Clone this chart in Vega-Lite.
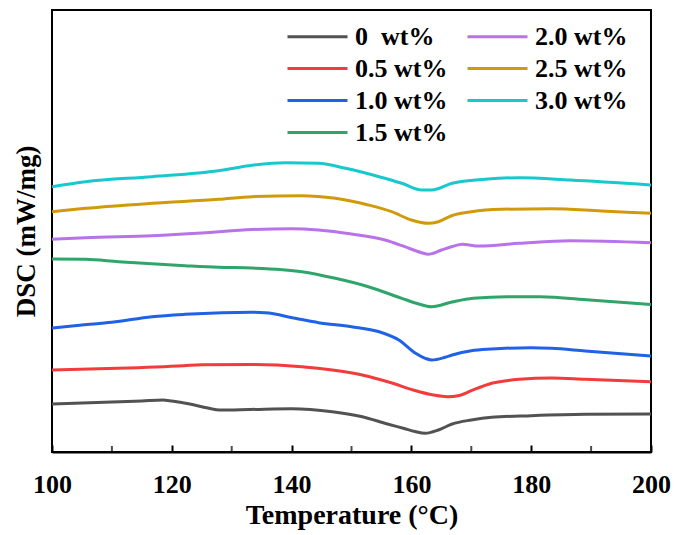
{
  "$schema": "https://vega.github.io/schema/vega-lite/v6.json",
  "width": 599,
  "height": 442,
  "autosize": "none",
  "padding": {"left": 52, "top": 10, "right": 31, "bottom": 83},
  "background": "white",
  "config": {
    "font": "Liberation Serif",
    "view": {"stroke": "black", "strokeWidth": 2},
    "axis": {"grid": false}
  },
  "datasets": {
    "dsc": [
      {"T": 100, "v": 48, "s": "0\u00a0\u00a0wt%"},
      {"T": 105, "v": 49, "s": "0\u00a0\u00a0wt%"},
      {"T": 110, "v": 50, "s": "0\u00a0\u00a0wt%"},
      {"T": 115, "v": 51, "s": "0\u00a0\u00a0wt%"},
      {"T": 118.5, "v": 52, "s": "0\u00a0\u00a0wt%"},
      {"T": 120, "v": 51, "s": "0\u00a0\u00a0wt%"},
      {"T": 123, "v": 48, "s": "0\u00a0\u00a0wt%"},
      {"T": 126, "v": 44, "s": "0\u00a0\u00a0wt%"},
      {"T": 128, "v": 42, "s": "0\u00a0\u00a0wt%"},
      {"T": 133, "v": 42.5, "s": "0\u00a0\u00a0wt%"},
      {"T": 140, "v": 43.3, "s": "0\u00a0\u00a0wt%"},
      {"T": 146.8, "v": 40.3, "s": "0\u00a0\u00a0wt%"},
      {"T": 151.8, "v": 35.3, "s": "0\u00a0\u00a0wt%"},
      {"T": 156, "v": 28, "s": "0\u00a0\u00a0wt%"},
      {"T": 158.8, "v": 23.5, "s": "0\u00a0\u00a0wt%"},
      {"T": 160.6, "v": 20.5, "s": "0\u00a0\u00a0wt%"},
      {"T": 162.3, "v": 18.7, "s": "0\u00a0\u00a0wt%"},
      {"T": 164.5, "v": 22, "s": "0\u00a0\u00a0wt%"},
      {"T": 166.8, "v": 28, "s": "0\u00a0\u00a0wt%"},
      {"T": 170, "v": 32, "s": "0\u00a0\u00a0wt%"},
      {"T": 173.4, "v": 34.7, "s": "0\u00a0\u00a0wt%"},
      {"T": 180, "v": 36.3, "s": "0\u00a0\u00a0wt%"},
      {"T": 189, "v": 37.7, "s": "0\u00a0\u00a0wt%"},
      {"T": 200, "v": 38, "s": "0\u00a0\u00a0wt%"},

      {"T": 100, "v": 82, "s": "0.5 wt%"},
      {"T": 111, "v": 83.7, "s": "0.5 wt%"},
      {"T": 122, "v": 86.3, "s": "0.5 wt%"},
      {"T": 125, "v": 87.3, "s": "0.5 wt%"},
      {"T": 133.4, "v": 87.5, "s": "0.5 wt%"},
      {"T": 141.7, "v": 85.3, "s": "0.5 wt%"},
      {"T": 146.8, "v": 82, "s": "0.5 wt%"},
      {"T": 151.8, "v": 77, "s": "0.5 wt%"},
      {"T": 156.9, "v": 68.7, "s": "0.5 wt%"},
      {"T": 160.3, "v": 62, "s": "0.5 wt%"},
      {"T": 163.7, "v": 57, "s": "0.5 wt%"},
      {"T": 166, "v": 55.3, "s": "0.5 wt%"},
      {"T": 168, "v": 56.5, "s": "0.5 wt%"},
      {"T": 170, "v": 61.3, "s": "0.5 wt%"},
      {"T": 173.4, "v": 68.7, "s": "0.5 wt%"},
      {"T": 178, "v": 72.7, "s": "0.5 wt%"},
      {"T": 183.4, "v": 74, "s": "0.5 wt%"},
      {"T": 189, "v": 72.7, "s": "0.5 wt%"},
      {"T": 200, "v": 70.3, "s": "0.5 wt%"},

      {"T": 100, "v": 124, "s": "1.0 wt%"},
      {"T": 105, "v": 127, "s": "1.0 wt%"},
      {"T": 110, "v": 129.7, "s": "1.0 wt%"},
      {"T": 116.7, "v": 135.3, "s": "1.0 wt%"},
      {"T": 122.2, "v": 137.7, "s": "1.0 wt%"},
      {"T": 128.4, "v": 139.3, "s": "1.0 wt%"},
      {"T": 133.4, "v": 139.7, "s": "1.0 wt%"},
      {"T": 135.6, "v": 139.3, "s": "1.0 wt%"},
      {"T": 140.6, "v": 133.7, "s": "1.0 wt%"},
      {"T": 144.5, "v": 129.3, "s": "1.0 wt%"},
      {"T": 150, "v": 125.3, "s": "1.0 wt%"},
      {"T": 154.6, "v": 120.3, "s": "1.0 wt%"},
      {"T": 157.9, "v": 112, "s": "1.0 wt%"},
      {"T": 160.7, "v": 98.7, "s": "1.0 wt%"},
      {"T": 162.3, "v": 93.7, "s": "1.0 wt%"},
      {"T": 163.4, "v": 92, "s": "1.0 wt%"},
      {"T": 165.6, "v": 94.7, "s": "1.0 wt%"},
      {"T": 166.8, "v": 97, "s": "1.0 wt%"},
      {"T": 170, "v": 101.3, "s": "1.0 wt%"},
      {"T": 173.4, "v": 103, "s": "1.0 wt%"},
      {"T": 180, "v": 104.3, "s": "1.0 wt%"},
      {"T": 183.4, "v": 103.7, "s": "1.0 wt%"},
      {"T": 189, "v": 101, "s": "1.0 wt%"},
      {"T": 200, "v": 96, "s": "1.0 wt%"},

      {"T": 100, "v": 193, "s": "1.5 wt%"},
      {"T": 105.6, "v": 192.7, "s": "1.5 wt%"},
      {"T": 111.1, "v": 190.3, "s": "1.5 wt%"},
      {"T": 122.2, "v": 186.3, "s": "1.5 wt%"},
      {"T": 127.8, "v": 184.7, "s": "1.5 wt%"},
      {"T": 133.4, "v": 184, "s": "1.5 wt%"},
      {"T": 141.7, "v": 180.3, "s": "1.5 wt%"},
      {"T": 147.3, "v": 173.7, "s": "1.5 wt%"},
      {"T": 152.8, "v": 165.3, "s": "1.5 wt%"},
      {"T": 158.4, "v": 153.7, "s": "1.5 wt%"},
      {"T": 161, "v": 148.5, "s": "1.5 wt%"},
      {"T": 163.4, "v": 145.3, "s": "1.5 wt%"},
      {"T": 166.8, "v": 150, "s": "1.5 wt%"},
      {"T": 170.3, "v": 153.7, "s": "1.5 wt%"},
      {"T": 176, "v": 155.3, "s": "1.5 wt%"},
      {"T": 181.5, "v": 155.3, "s": "1.5 wt%"},
      {"T": 189.8, "v": 152, "s": "1.5 wt%"},
      {"T": 200, "v": 147.5, "s": "1.5 wt%"},

      {"T": 100, "v": 212.7, "s": "2.0 wt%"},
      {"T": 105.6, "v": 214.3, "s": "2.0 wt%"},
      {"T": 116.7, "v": 216.3, "s": "2.0 wt%"},
      {"T": 125, "v": 219, "s": "2.0 wt%"},
      {"T": 133.4, "v": 222.5, "s": "2.0 wt%"},
      {"T": 140, "v": 223.3, "s": "2.0 wt%"},
      {"T": 144.5, "v": 222, "s": "2.0 wt%"},
      {"T": 150, "v": 218, "s": "2.0 wt%"},
      {"T": 155.6, "v": 212, "s": "2.0 wt%"},
      {"T": 158.9, "v": 205.3, "s": "2.0 wt%"},
      {"T": 161.7, "v": 199.3, "s": "2.0 wt%"},
      {"T": 162.8, "v": 197.7, "s": "2.0 wt%"},
      {"T": 165, "v": 202, "s": "2.0 wt%"},
      {"T": 166.8, "v": 205.5, "s": "2.0 wt%"},
      {"T": 168.5, "v": 207.7, "s": "2.0 wt%"},
      {"T": 171.3, "v": 206, "s": "2.0 wt%"},
      {"T": 178, "v": 208.7, "s": "2.0 wt%"},
      {"T": 186.5, "v": 211.3, "s": "2.0 wt%"},
      {"T": 200, "v": 209.3, "s": "2.0 wt%"},

      {"T": 100, "v": 240.3, "s": "2.5 wt%"},
      {"T": 105.6, "v": 243.7, "s": "2.5 wt%"},
      {"T": 116.7, "v": 248.7, "s": "2.5 wt%"},
      {"T": 127.8, "v": 252.7, "s": "2.5 wt%"},
      {"T": 133.4, "v": 255.3, "s": "2.5 wt%"},
      {"T": 141.7, "v": 256.3, "s": "2.5 wt%"},
      {"T": 147.3, "v": 253.7, "s": "2.5 wt%"},
      {"T": 152.8, "v": 247, "s": "2.5 wt%"},
      {"T": 156.7, "v": 240.3, "s": "2.5 wt%"},
      {"T": 160, "v": 232, "s": "2.5 wt%"},
      {"T": 162.8, "v": 228.7, "s": "2.5 wt%"},
      {"T": 164.5, "v": 230.3, "s": "2.5 wt%"},
      {"T": 166.8, "v": 236.5, "s": "2.5 wt%"},
      {"T": 170, "v": 240.3, "s": "2.5 wt%"},
      {"T": 175, "v": 242.7, "s": "2.5 wt%"},
      {"T": 183.4, "v": 243.3, "s": "2.5 wt%"},
      {"T": 191.7, "v": 241, "s": "2.5 wt%"},
      {"T": 200, "v": 238.7, "s": "2.5 wt%"},

      {"T": 100, "v": 265.3, "s": "3.0 wt%"},
      {"T": 105.6, "v": 270.3, "s": "3.0 wt%"},
      {"T": 116.7, "v": 275.3, "s": "3.0 wt%"},
      {"T": 127.8, "v": 281.3, "s": "3.0 wt%"},
      {"T": 133.4, "v": 286.7, "s": "3.0 wt%"},
      {"T": 139, "v": 289.3, "s": "3.0 wt%"},
      {"T": 144.5, "v": 288.7, "s": "3.0 wt%"},
      {"T": 149, "v": 283.7, "s": "3.0 wt%"},
      {"T": 154.6, "v": 275.3, "s": "3.0 wt%"},
      {"T": 158.4, "v": 268.7, "s": "3.0 wt%"},
      {"T": 161.7, "v": 262, "s": "3.0 wt%"},
      {"T": 163.4, "v": 262, "s": "3.0 wt%"},
      {"T": 166.8, "v": 268.7, "s": "3.0 wt%"},
      {"T": 172.3, "v": 272.7, "s": "3.0 wt%"},
      {"T": 178, "v": 274.3, "s": "3.0 wt%"},
      {"T": 186.5, "v": 272, "s": "3.0 wt%"},
      {"T": 200, "v": 267, "s": "3.0 wt%"}
    ],
    "minorTicks": [
      {"T": 110}, {"T": 130}, {"T": 150}, {"T": 170}, {"T": 190}
    ]
  },
  "encoding": {
    "x": {
      "field": "T",
      "type": "quantitative",
      "scale": {"domain": [100, 200], "nice": false, "zero": false},
      "axis": {
        "title": "Temperature (°C)",
        "values": [100, 120, 140, 160, 180, 200],
        "labelFont": "Liberation Serif",
        "labelFontSize": 26,
        "labelFontWeight": "bold",
        "labelColor": "black",
        "labelPadding": 26,
        "labelFlush": false,
        "labelOverlap": false,
        "tickSize": -7,
        "tickWidth": 2,
        "tickColor": "black",
        "domainColor": "black",
        "domainWidth": 2,
        "titleFont": "Liberation Serif",
        "titleFontSize": 28,
        "titleFontWeight": "bold",
        "titleColor": "black",
        "titlePadding": 4
      }
    }
  },
  "layer": [
    {
      "data": {"name": "dsc"},
      "mark": {"type": "line", "strokeWidth": 3, "interpolate": "monotone"},
      "encoding": {
        "y": {
          "field": "v",
          "type": "quantitative",
          "scale": {"domain": [0, 442], "nice": false, "zero": false},
          "axis": {
            "title": "DSC (mW/mg)",
            "labels": false,
            "ticks": false,
            "domain": false,
            "titleFont": "Liberation Serif",
            "titleFontSize": 27,
            "titleFontWeight": "bold",
            "titleColor": "black",
            "titlePadding": 12
          }
        },
        "color": {
          "field": "s",
          "type": "nominal",
          "scale": {
            "domain": ["0\u00a0\u00a0wt%", "0.5 wt%", "1.0 wt%", "1.5 wt%", "2.0 wt%", "2.5 wt%", "3.0 wt%"],
            "range": ["#525252", "#f23b3b", "#1f62e6", "#2fa56b", "#b873e8", "#d09a0a", "#17c8cc"]
          },
          "legend": {
            "orient": "none",
            "legendX": 249,
            "legendY": 10,
            "columns": 2,
            "title": null,
            "symbolType": "M-2,0H2",
            "symbolSize": 900,
            "symbolStrokeWidth": 3,
            "labelFont": "Liberation Serif",
            "labelFontSize": 26,
            "labelFontWeight": "bold",
            "labelColor": "black",
            "labelOffset": 21,
            "labelLimit": 300,
            "rowPadding": 2,
            "columnPadding": 13
          }
        }
      }
    },
    {
      "data": {"name": "minorTicks"},
      "mark": {"type": "tick", "orient": "vertical", "size": 6, "thickness": 2, "color": "black", "yOffset": -3},
      "encoding": {
        "y": {"datum": 0, "type": "quantitative"}
      }
    }
  ]
}
